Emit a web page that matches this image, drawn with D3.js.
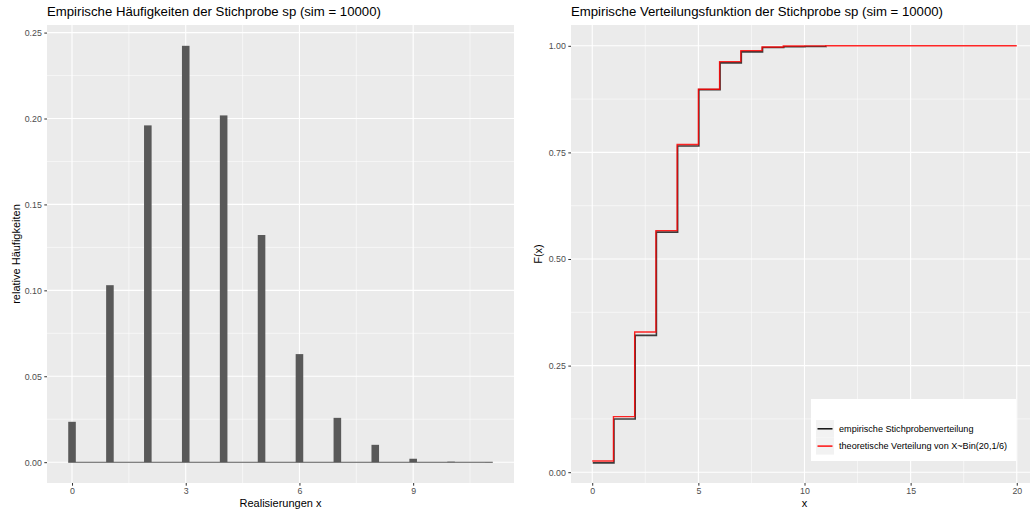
<!DOCTYPE html>
<html><head><meta charset="utf-8">
<script src="https://cdn.jsdelivr.net/npm/d3@7"></script>
<style>
body{margin:0;background:#fff;}
svg{display:block;font-family:"Liberation Sans",Arial,sans-serif;}
</style></head>
<body>
<svg id="c" width="1030" height="511"></svg>
<script>
// ---- data ----
const realisierungen = [0,1,2,3,4,5,6,7,8,9,10,11];
const relHaeufigkeiten = [0.0235,0.1030,0.1960,0.2423,0.2018,0.1322,0.0629,0.0258,0.0101,0.0020,0.0003,0.0001];
const theoX = [0,1,2,3,4,5,6,7,8,9,10,11,12,13,14,15,16,17,18,19,20];
const theoCDF = [0.0261,0.1304,0.3287,0.5665,0.7687,0.8982,0.9629,0.9887,0.9972,0.9994,0.9999,1.0,1.0,1.0,1.0,1.0,1.0,1.0,1.0,1.0,1.0];
const leftXTicks = [0,3,6,9];
const leftYTicks = [0,0.05,0.10,0.15,0.20,0.25];
const rightXTicks = [0,5,10,15,20];
const rightYTicks = [0,0.25,0.5,0.75,1.0];
const legendLabels = ["empirische Stichprobenverteilung","theoretische Verteilung von X~Bin(20,1/6)"];
const legendColors = ["#000000","#FF0000"];
const titles = ["Empirische Häufigkeiten der Stichprobe sp (sim = 10000)","Empirische Verteilungsfunktion der Stichprobe sp (sim = 10000)"];

const empCDF = Array.from(d3.cumsum(relHaeufigkeiten));

const svg = d3.select("#c");
const PANEL_BG="#EBEBEB", TICK_COL="#333333", LAB_COL="#4D4D4D";

function expand(lo,hi){const d=(hi-lo)*0.05;return [lo-d,hi+d];}

function panel(g, x, y, xTicks, yTicks, xMinor, yMinor, fmtY){
  const [x0,x1]=x.range(), [y1,y0]=y.range();
  g.append("rect").attr("x",x0).attr("y",y0).attr("width",x1-x0).attr("height",y1-y0).attr("fill",PANEL_BG);
  g.selectAll(".minx").data(xMinor).join("line").attr("x1",d=>x(d)).attr("x2",d=>x(d)).attr("y1",y0).attr("y2",y1).attr("stroke","#fff").attr("stroke-width",0.55);
  g.selectAll(".miny").data(yMinor).join("line").attr("y1",d=>y(d)).attr("y2",d=>y(d)).attr("x1",x0).attr("x2",x1).attr("stroke","#fff").attr("stroke-width",0.55);
  g.selectAll(".majx").data(xTicks).join("line").attr("x1",d=>x(d)).attr("x2",d=>x(d)).attr("y1",y0).attr("y2",y1).attr("stroke","#fff").attr("stroke-width",1.1);
  g.selectAll(".majy").data(yTicks).join("line").attr("y1",d=>y(d)).attr("y2",d=>y(d)).attr("x1",x0).attr("x2",x1).attr("stroke","#fff").attr("stroke-width",1.1);
  const ax = g.append("g").attr("transform",`translate(0,${y1})`)
    .call(d3.axisBottom(x).tickValues(xTicks).tickSize(2.7).tickPadding(2.5).tickFormat(d3.format("d")));
  const ay = g.append("g").attr("transform",`translate(${x0},0)`)
    .call(d3.axisLeft(y).tickValues(yTicks).tickSize(2.7).tickPadding(2.5).tickFormat(fmtY));
  [ax,ay].forEach(a=>{
    a.select(".domain").remove();
    a.selectAll(".tick line").attr("stroke",TICK_COL).attr("stroke-width",1);
    a.selectAll(".tick text").attr("fill",LAB_COL).attr("font-size","8.8px").attr("font-family","Liberation Sans, Arial, sans-serif");
  });
}

// ---------- left panel ----------
const L = {x0:47,x1:514,y0:25,y1:483};
const barW = 0.2;
const xl = d3.scaleLinear().domain(expand(-barW/2, 11+barW/2)).range([L.x0,L.x1]);
const yl = d3.scaleLinear().domain(expand(0, d3.max(relHaeufigkeiten))).range([L.y1,L.y0]);
const gL = svg.append("g");
panel(gL, xl, yl, leftXTicks, leftYTicks, [1.5,4.5,7.5,10.5], [0.025,0.075,0.125,0.175,0.225], d3.format(".2f"));
gL.selectAll(".bar").data(realisierungen).join("rect")
  .attr("x",(d)=>xl(d-barW/2)).attr("width",xl(barW)-xl(0))
  .attr("y",(d,i)=>yl(relHaeufigkeiten[i])).attr("height",(d,i)=>yl(0)-yl(relHaeufigkeiten[i]))
  .attr("fill","#595959");
gL.append("line").attr("x1",xl(-barW/2)).attr("x2",xl(11+barW/2)).attr("y1",yl(0)).attr("y2",yl(0))
  .attr("stroke","#595959").attr("stroke-width",1.1);
gL.append("text").attr("x",L.x0).attr("y",16).attr("font-size","13.2px").attr("fill","#000").text(titles[0]);
gL.append("text").attr("x",(L.x0+L.x1)/2).attr("y",507).attr("text-anchor","middle").attr("font-size","11px").attr("fill","#000").text("Realisierungen x");
gL.append("text").attr("transform",`translate(20,${(L.y0+L.y1)/2}) rotate(-90)`).attr("text-anchor","middle").attr("font-size","11px").attr("fill","#000").text("relative Häufigkeiten");

// ---------- right panel ----------
const R = {x0:571,x1:1038,y0:25,y1:483};
const xr = d3.scaleLinear().domain(expand(0,20)).range([R.x0,R.x1]);
const allY = empCDF.concat(theoCDF);
const yr = d3.scaleLinear().domain(expand(d3.min(allY), d3.max(allY))).range([R.y1,R.y0]);
const gR = svg.append("g");
panel(gR, xr, yr, rightXTicks, rightYTicks, [2.5,7.5,12.5,17.5], [0.125,0.375,0.625,0.875], d3.format(".2f"));
const line = d3.line().curve(d3.curveStepAfter);
gR.append("path").attr("d", line(realisierungen.map((d,i)=>[xr(d)+0.5,yr(empCDF[i])+0.7])))
  .attr("fill","none").attr("stroke","#000").attr("stroke-opacity",0.75).attr("stroke-width",1.6);
gR.append("path").attr("d", line(theoX.map((d,i)=>[xr(d),yr(theoCDF[i])])))
  .attr("fill","none").attr("stroke","#FF0000").attr("stroke-opacity",0.85).attr("stroke-width",1.4);
gR.append("text").attr("x",R.x0).attr("y",16).attr("font-size","13.2px").attr("fill","#000").text(titles[1]);
gR.append("text").attr("x",xr(10)).attr("y",507).attr("text-anchor","middle").attr("font-size","11px").attr("fill","#000").text("x");
gR.append("text").attr("transform",`translate(542,${(R.y0+R.y1)/2}) rotate(-90)`).attr("text-anchor","middle").attr("font-size","11px").attr("fill","#000").text("F(x)");

// legend
const lg = gR.append("g");
lg.append("rect").attr("x",811).attr("y",399).attr("width",205).attr("height",62).attr("fill","#fff");
legendLabels.forEach((t,i)=>{
  const ky = 420 + i*17.3;
  lg.append("rect").attr("x",816).attr("y",ky).attr("width",18).attr("height",17.3).attr("fill","#F2F2F2");
  lg.append("line").attr("x1",817.5).attr("x2",832.5).attr("y1",ky+8.8).attr("y2",ky+8.8).attr("stroke",legendColors[i]).attr("stroke-width",1.4);
  lg.append("text").attr("x",839).attr("y",ky+11.8).attr("font-size","9.1px").attr("fill","#000").text(t);
});
</script>
</body></html>
